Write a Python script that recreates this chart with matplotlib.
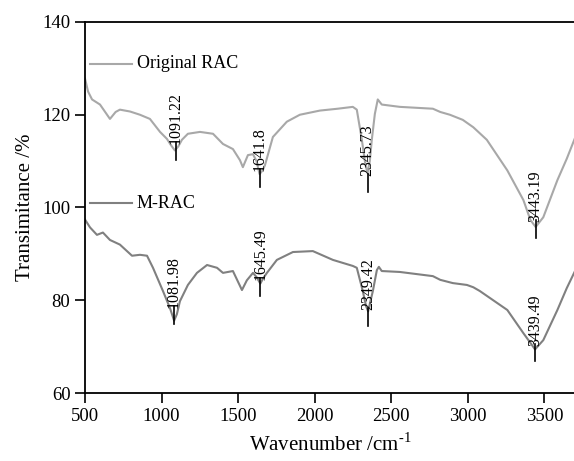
import matplotlib
matplotlib.use("Agg")
import matplotlib.pyplot as plt

plt.rcParams['font.family'] = ['Liberation Serif', 'DejaVu Serif']
plt.rcParams['mathtext.fontset'] = 'custom'
plt.rcParams['mathtext.rm'] = 'Liberation Serif'

# traced spectra (wavenumber, transmittance)
orig_x = [500, 520, 546, 598, 663, 700, 728, 794, 859, 924, 990, 1035, 1060, 1087, 1110, 1133,
          1172, 1251, 1336, 1401, 1466, 1512, 1531, 1564, 1597, 1620, 1640, 1660, 1675,
          1727, 1818, 1903, 2034, 2150, 2249, 2275, 2308, 2330, 2345, 2360, 2373, 2393,
          2412, 2438, 2556, 2772, 2820, 2883, 2967, 3036, 3124, 3258, 3363, 3409, 3443,
          3493, 3585, 3646, 3700]
orig_y = [127.8, 125.0, 123.3, 122.2, 119.1, 120.6, 121.1, 120.7, 120.0, 119.1, 116.3, 114.8, 113.5, 112.3, 113.2, 114.6,
          115.9, 116.3, 115.9, 113.7, 112.6, 110.2, 108.7, 111.3, 111.5, 110.0, 107.2, 108.0, 109.1,
          115.2, 118.5, 120.0, 120.9, 121.3, 121.7, 121.1, 114.6, 109.5, 107.4, 110.0, 114.6, 120.2,
          123.3, 122.2, 121.7, 121.3, 120.6, 120.0, 118.9, 117.3, 114.6, 108.0, 101.6, 97.3, 95.8,
          97.9, 105.9, 110.5, 115.0]

mrac_x = [500, 533, 578, 617, 663, 728, 807, 859, 905, 944, 1009, 1055, 1082, 1100, 1120,
          1172, 1231, 1297, 1362, 1401, 1466, 1525, 1557, 1597, 1620, 1645, 1665, 1688,
          1753, 1858, 1988, 2119, 2249, 2275, 2314, 2335, 2349, 2362, 2380, 2406, 2419,
          2438, 2556, 2772, 2820, 2902, 2994, 3036, 3078, 3258, 3363, 3409, 3439, 3493,
          3585, 3646, 3700]
mrac_y = [97.4, 95.7, 94.1, 94.6, 93.0, 92.0, 89.6, 89.8, 89.6, 87.0, 82.0, 78.3, 75.6, 77.0, 79.8,
          83.3, 85.9, 87.6, 87.0, 85.9, 86.3, 82.2, 84.3, 85.9, 85.0, 83.6, 84.8, 85.9,
          88.7, 90.4, 90.6, 88.7, 87.4, 87.0, 82.0, 78.8, 77.6, 79.5, 82.0, 86.5, 87.2,
          86.3, 86.1, 85.2, 84.4, 83.7, 83.3, 82.8, 82.0, 77.9, 72.9, 70.8, 69.4, 71.4,
          77.9, 82.6, 86.3]

orig_peaks = [1091.22, 1641.8, 2345.73, 3443.19]
orig_peak_y = [114.1, 108.3, 107.2, 97.2]
mrac_peaks = [1081.98, 1645.49, 2349.42, 3439.49]
mrac_peak_y = [78.7, 84.8, 78.3, 70.6]

fig = plt.figure(figsize=(5.74, 4.61), dpi=100)
ax = fig.add_axes([85 / 574, 68 / 461, 490 / 574, 371 / 461])

ax.plot(orig_x, orig_y, color='#a8a8a8', lw=1.5)
ax.plot(mrac_x, mrac_y, color='#808080', lw=1.5)

for peaks, ys in [(orig_peaks, orig_peak_y), (mrac_peaks, mrac_peak_y)]:
    for px, py in zip(peaks, ys):
        ax.plot([px, px], [py, py - 3.8], color='black', lw=1.2)
        ax.text(px, py - 0.4, f"{px:g}", rotation=90, ha='center', va='bottom',
                fontsize=11.5, color='black')

# legend-like labels
ax.plot([0.010, 0.096], [0.887, 0.887], transform=ax.transAxes, color='#a8a8a8', lw=1.5)
ax.text(0.106, 0.887, 'Original RAC', transform=ax.transAxes, va='center', fontsize=13)
ax.plot([0.010, 0.096], [0.512, 0.512], transform=ax.transAxes, color='#808080', lw=1.5)
ax.text(0.106, 0.512, 'M-RAC', transform=ax.transAxes, va='center', fontsize=13)

ax.set_xlim(500, 3700)
ax.set_ylim(60, 140)
ax.set_xticks([500, 1000, 1500, 2000, 2500, 3000, 3500])
ax.set_yticks([60, 80, 100, 120, 140])
ax.tick_params(direction='out', length=7, width=1.2, labelsize=13.5)
for s in ax.spines.values():
    s.set_linewidth(1.3)
ax.spines['right'].set_visible(False)

ax.set_xlabel(r'Wavenumber /cm$^{\text{-}1}$', fontsize=15, labelpad=6)
ax.set_ylabel('Transimitance /%', fontsize=15, labelpad=5)

fig.savefig('out.png', dpi=100)
